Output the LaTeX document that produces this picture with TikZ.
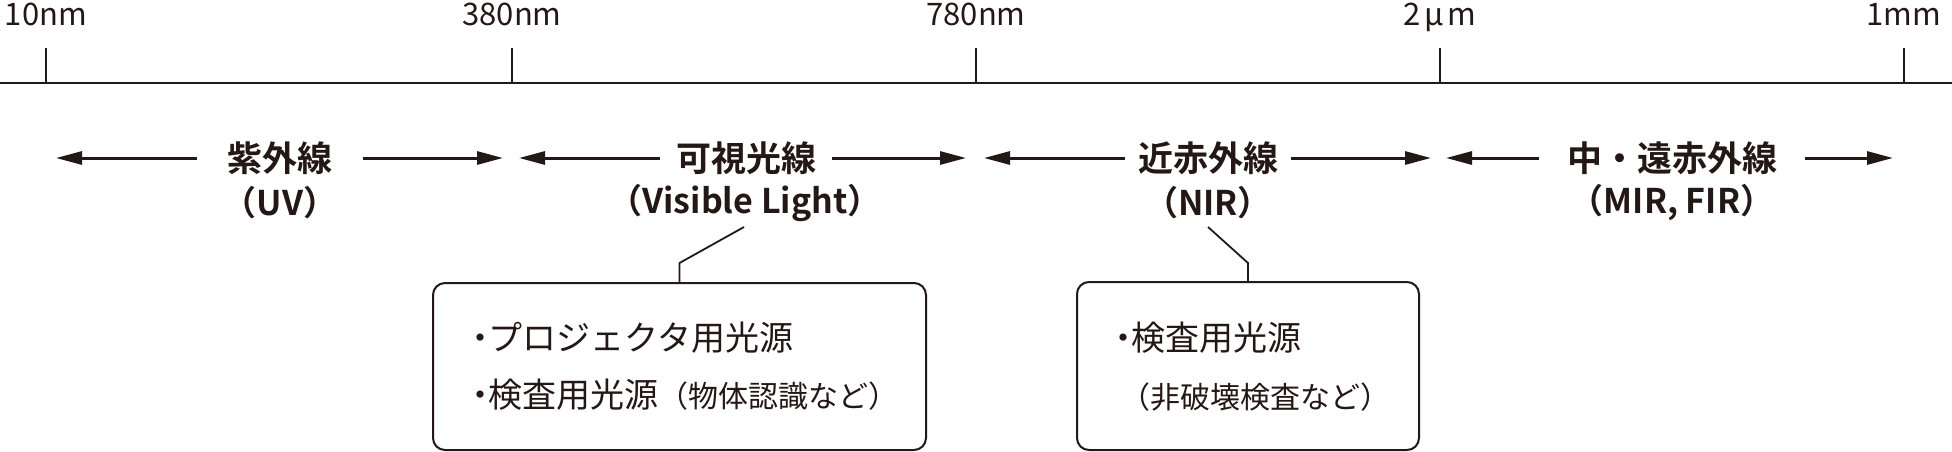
\documentclass[tikz,border=0pt]{standalone}
\usepackage{fontspec}
\setmainfont{Noto Sans CJK JP}[BoldFont={Noto Sans CJK JP Bold}]
\usetikzlibrary{arrows.meta}
\definecolor{ink}{HTML}{231815}
\newcommand{\bul}{\makebox[0.5em]{・}}
\begin{document}
\begin{tikzpicture}[x=1pt,y=-1pt,color=ink,
  ticklbl/.style={font=\fontsize{31}{36}\selectfont, inner sep=0pt, anchor=base},
  tickline/.style={line width=2pt},
  axisline/.style={line width=2pt},
  bandtitle/.style={font=\fontsize{35}{40}\selectfont\bfseries, inner ysep=0pt},
  bandsub/.style={font=\fontsize{34}{40}\selectfont\bfseries, inner sep=0pt},
  bandarrow/.style={line width=3pt, -{Triangle[length=26pt,width=13pt]}},
  infobox/.style={draw, line width=2pt, rounded corners=12pt, inner sep=0pt},
  infotext/.style={font=\fontsize{34}{40}\selectfont, inner sep=0pt, anchor=west},
  infosmall/.style={font=\fontsize{30}{36}\selectfont, inner sep=0pt, anchor=west},
  leader/.style={line width=1.8pt}
]
\useasboundingbox (0,0) rectangle (1952,452);

% axis
\coordinate (axL) at (0,83);
\coordinate (axR) at (1952,83);
\draw[axisline] (axL) -- (axR);
\foreach \n/\x in {t1/46,t2/512,t3/976,t4/1440,t5/1904}{
  \coordinate (\n) at (\x,83);
  \draw[tickline] (\n) -- ++(0,-35);
}
\node[ticklbl] (l1) at (46,26) {10nm};
\node[ticklbl] (l2) at (512,26) {380nm};
\node[ticklbl] (l3) at (976,26) {780nm};
\node[ticklbl] (l4) at (1440,26) {2\kern4pt μ\kern4pt m};
\node[ticklbl] (l5) at (1904,26) {1mm};

% band titles
\node[bandtitle, inner xsep=30pt] (uv) at (280,158) {紫外線};
\node[bandsub] (uvs) at (280,203) {（UV）};
\node[bandtitle, inner xsep=16pt] (vis) at (746,158) {可視光線};
\node[bandsub] (viss) at (745,203) {（Visible Light）};
\node[bandtitle, inner xsep=13pt] (nir) at (1208,158) {近赤外線};
\node[bandsub] (nirs) at (1208,203) {（NIR）};
\node[bandtitle, inner xsep=28pt] (mir) at (1672,158) {中・遠赤外線};
\node[bandsub] (mirs) at (1672,203) {（MIR, FIR）};

% arrow tips
\coordinate (uvA) at (56,158);  \coordinate (uvB) at (503,158);
\coordinate (visA) at (519,158); \coordinate (visB) at (966,158);
\coordinate (nirA) at (984,158); \coordinate (nirB) at (1431,158);
\coordinate (mirA) at (1446,158); \coordinate (mirB) at (1893,158);
\draw[bandarrow] (uv.west) -- (uvA);
\draw[bandarrow] (uv.east) -- (uvB);
\draw[bandarrow] (vis.west) -- (visA);
\draw[bandarrow] (vis.east) -- (visB);
\draw[bandarrow] (nir.west) -- (nirA);
\draw[bandarrow] (nir.east) -- (nirB);
\draw[bandarrow] (mir.west) -- (mirA);
\draw[bandarrow] (mir.east) -- (mirB);

% info boxes
\node[infobox, minimum width=493pt, minimum height=167pt] (visbox) at (679.5,366.5) {};
\node[infotext] (vis1) at (471.5,338) {\bul プロジェクタ用光源};
\node[infotext] (vis2) at (471.5,395) {\bul 検査用光源{\fontsize{30}{36}\selectfont（物体認識など）}};
\node[infobox, minimum width=342pt, minimum height=168pt] (nirbox) at (1248,366) {};
\node[infotext] (nir1) at (1114.5,338) {\bul 検査用光源};
\node[infosmall] (nir2) at (1120,397) {（非破壊検査など）};

% leaders
\coordinate (visL) at (744,227);
\coordinate (nirL) at (1208,227);
\draw[leader] (visbox.north) -- ++(0,-19) -- (visL);
\draw[leader] (nirbox.north) -- ++(0,-18) -- (nirL);
\end{tikzpicture}
\end{document}
